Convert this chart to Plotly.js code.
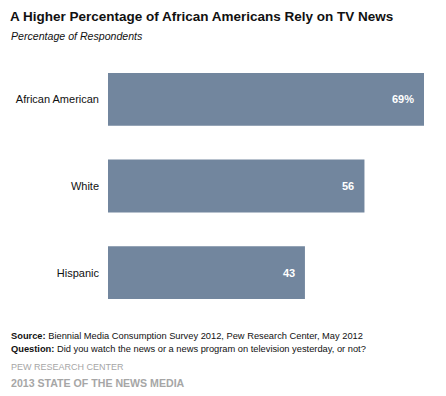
<!DOCTYPE html>
<html>
<head>
<meta charset="utf-8">
<script src="https://cdn.plot.ly/plotly-3.0.1.min.js"></script>
<style>html,body{margin:0;padding:0;background:#fff;}#chart{width:446px;height:396px;}</style>
</head>
<body>
<div id="chart"></div>
<script>
const categories = ["African American", "White", "Hispanic"];
const values = [69, 56, 43];
const valueLabels = ["69%", "56", "43"];

const FONT = "Liberation Sans, Arial, sans-serif";
const barColor = "#72869e";

const trace = {
  type: "bar",
  orientation: "h",
  y: categories,
  x: values,
  marker: {color: barColor},
  hoverinfo: "none"
};

const valueAnnotations = categories.map((c, i) => ({
  x: values[i], y: c, xref: "x", yref: "y",
  text: valueLabels[i], showarrow: false,
  xanchor: "right", yanchor: "middle", xshift: -8,
  font: {family: FONT, size: 11, color: "#ffffff", weight: "bold"}
}));

const textAnnotations = [
  {text: "<b>A Higher Percentage of African Americans Rely on TV News</b>", x: 8, y: 16, size: 13.5, color: "#111111"},
  {text: "<i>Percentage of Respondents</i>", x: 9, y: 36, size: 10.6, color: "#111111"},
  {text: "<b>Source:</b> Biennial Media Consumption Survey 2012, Pew Research Center, May 2012", x: 9, y: 336, size: 9.3, color: "#111111"},
  {text: "<b>Question:</b> Did you watch the news or a news program on television yesterday, or not?", x: 9, y: 349, size: 9.3, color: "#111111"},
  {text: "PEW RESEARCH CENTER", x: 9, y: 367, size: 9, color: "#a6a6a6"},
  {text: "<b>2013 STATE OF THE NEWS MEDIA</b>", x: 9, y: 383, size: 10.6, color: "#a6a6a6"}
].map(a => ({
  text: a.text, showarrow: false,
  xref: "paper", yref: "paper",
  x: (a.x - 108) / (446 - 108 - 22),
  y: 1 - (a.y - 56) / (396 - 56 - 80),
  xanchor: "left", yanchor: "middle",
  font: {family: FONT, size: a.size, color: a.color}
}));

const layout = {
  width: 446, height: 396,
  margin: {l: 108, r: 22, t: 56, b: 80, pad: 0},
  paper_bgcolor: "#ffffff", plot_bgcolor: "#ffffff",
  showlegend: false,
  bargap: 0.39,
  xaxis: {range: [0, 69], visible: false, fixedrange: true},
  yaxis: {
    autorange: "reversed", showgrid: false, zeroline: false, showline: false,
    ticks: "", ticklabelstandoff: 8,
    tickfont: {family: FONT, size: 11, color: "#111111"}, fixedrange: true
  },
  annotations: valueAnnotations.concat(textAnnotations)
};

Plotly.newPlot("chart", [trace], layout, {displayModeBar: false, staticPlot: true});
</script>
</body>
</html>
